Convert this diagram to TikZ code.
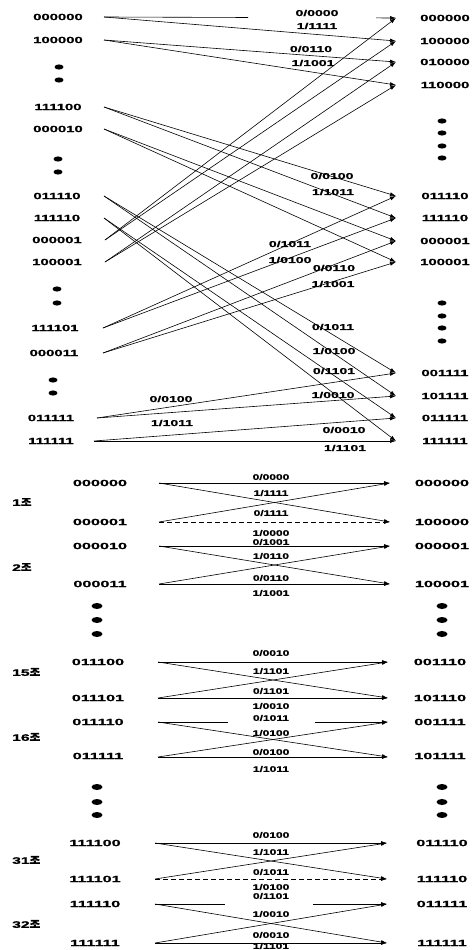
\documentclass[tikz,border=0pt]{standalone}
\usepackage{fontspec}
\setmainfont{Liberation Sans}
\newfontfamily\wa{Liberation Sans}[FakeStretch=1.65, BoldFeatures={FakeBold=1.2}]
\newfontfamily\wb{Liberation Sans}[FakeStretch=1.5, BoldFeatures={FakeBold=1.2}]
\newfontfamily\wc{Liberation Sans}[FakeStretch=1.8, BoldFeatures={FakeBold=1.2}]
\newfontfamily\cjk{Noto Sans CJK KR}[FakeBold=1.6, FakeStretch=1.15]
\newcommand\myjo{{\cjk\fontsize{10}{11}\selectfont 조}}
\usetikzlibrary{arrows.meta}
\begin{document}
\begin{tikzpicture}[x=1pt,y=-1pt,
  st/.style={font=\wa\bfseries\fontsize{9}{10}\selectfont, inner sep=0pt},
  stb/.style={font=\wc\bfseries\fontsize{9}{10}\selectfont, inner sep=0pt},
  el/.style={font=\wa\bfseries\fontsize{8.5}{9}\selectfont, inner sep=0.5pt},
  elb/.style={font=\wb\bfseries\fontsize{8}{9}\selectfont, inner sep=0.5pt},
  grp/.style={anchor=west, inner sep=0pt, font=\wa\bfseries\fontsize{9.5}{10}\selectfont},
  edge/.style={line width=0.6pt, -{Latex[length=6pt,width=4pt]}},
  brk/.style={dash pattern=on 5pt off 3pt}]
\useasboundingbox (0,0) rectangle (472,950);
\fill[white] (0,0) rectangle (472,950);

% ---------------- upper part ----------------
\foreach \n/\t/\x/\y/\px in {a1/000000/58/17/104, a2/100000/58/40/104,
  a3/111100/58/107/104, a4/000010/58/129/104, a5/011110/57/196/104,
  a6/111110/57/218/104, a7/000001/57/240/105, a8/100001/57/262/105,
  a9/111101/55/328/103, a10/000011/54/353/103, a11/011111/51/418/97,
  a12/111111/51/441/94}{
  \node[st] (\n) at (\x,\y) {\t};
  \coordinate (\n p) at (\px,\y);
}
\foreach \n/\t/\y in {b1/000000/18, b2/100000/41, b3/010000/62, b4/110000/85,
  b5/011110/196, b6/111110/218, b7/000001/241, b8/100001/262,
  b9/001111/373, b10/101111/396, b11/011111/418, b12/111111/441}{
  \node[st] (\n) at (445,\y) {\t};
  \coordinate (\n p) at (396,\y);
}
\foreach \p in {(59,67),(59,80),(58,159),(58,172),(57,289),(57,303),(53,380),(53,393),
  (442,121),(442,133),(442,146),(442,158),(442,303),(442,316),(442,328),(442,341)}{
  \fill \p ellipse [x radius=4.5pt, y radius=2.6pt];
}
\draw[edge, dash pattern=on 144pt off 128pt on 100pt] (a1p) -- (b1p);
\foreach \a/\b in {a1/b2, a2/b3, a2/b4, a3/b5, a3/b6, a4/b7, a4/b8,
  a5/b9, a5/b10, a6/b11, a6/b12, a7/b1, a7/b2, a8/b3, a8/b4,
  a9/b5, a9/b6, a10/b7, a10/b8, a11/b9, a11/b10, a12/b11, a12/b12}{
  \draw[edge] (\a p) -- (\b p);
}
\node[el] (t1) at (317,13) {0/0000};
\node[el] (t2) at (317,26) {1/1111};
\node[el] (t3) at (311,49) {0/0110};
\node[el] (t4) at (313,63) {1/1001};
\node[el] (t5) at (332,176) {0/0100};
\node[el] (t6) at (333,192) {1/1011};
\node[el] (t7) at (290,244) {0/1011};
\node[el] (t8) at (290,260) {1/0100};
\node[el] (t9) at (334,268) {0/0110};
\node[el] (t10) at (333,284) {1/1001};
\node[el] (t11) at (333,327) {0/1011};
\node[el] (t12) at (334,351) {1/0100};
\node[el] (t13) at (334,371) {0/1101};
\node[el] (t14) at (333,395) {1/0010};
\node[el] (t15) at (171,399) {0/0100};
\node[el] (t16) at (172,423) {1/1011};
\node[el] (t17) at (344,430) {0/0010};
\node[el] (t18) at (345,448) {1/1101};

% ---------------- lower part ----------------
% group 1
\node[stb] (p1a) at (100,483) {000000};
\node[stb] (p1b) at (100,522) {000001};
\node[stb] (q1a) at (442,483) {000000};
\node[stb] (q1b) at (442,522) {100000};
\coordinate (p1ap) at (159,483); \coordinate (p1bp) at (159,522);
\coordinate (q1ap) at (390,483); \coordinate (q1bp) at (390,522);
\draw[edge] (p1ap) -- (q1ap);
\draw[edge] (p1ap) -- (q1bp);
\draw[edge] (p1bp) -- (q1ap);
\draw[edge, brk] (p1bp) -- (q1bp);
\node[elb] (u1a) at (271,477) {0/0000};
\node[elb] (u1b) at (271,493) {1/1111};
\node[elb] (u1c) at (271,513) {0/1111};
\node[elb] (u1d) at (271,533) {1/0000};
\node[grp] (g1) at (12,502) {1\myjo};
% group 2
\node[stb] (p2a) at (100,546) {000010};
\node[stb] (p2b) at (100,584) {000011};
\node[stb] (q2a) at (442,546) {000001};
\node[stb] (q2b) at (442,584) {100001};
\coordinate (p2ap) at (159,546); \coordinate (p2bp) at (159,584);
\coordinate (q2ap) at (390,546); \coordinate (q2bp) at (390,584);
\draw[edge] (p2ap) -- (q2ap);
\draw[edge] (p2ap) -- (q2bp);
\draw[edge] (p2bp) -- (q2ap);
\draw[edge] (p2bp) -- (q2bp);
\node[elb] (u2a) at (271,542) {0/1001};
\node[elb] (u2b) at (271,556) {1/0110};
\node[elb] (u2c) at (271,578) {0/0110};
\node[elb] (u2d) at (271,593) {1/1001};
\node[grp] (g2) at (12,567) {2\myjo};
% dots
\foreach \y in {606,620,634,787,802,815}{
  \fill (97,\y) ellipse [x radius=5.5pt, y radius=3pt];
  \fill (442,\y) ellipse [x radius=5.5pt, y radius=3pt];
}
% group 15
\node[stb] (p3a) at (98,662) {011100};
\node[stb] (p3b) at (98,698) {011101};
\node[stb] (q3a) at (440,662) {001110};
\node[stb] (q3b) at (440,698) {101110};
\coordinate (p3ap) at (158,662); \coordinate (p3bp) at (158,698);
\coordinate (q3ap) at (388,662); \coordinate (q3bp) at (388,698);
\draw[edge] (p3ap) -- (q3ap);
\draw[edge] (p3ap) -- (q3bp);
\draw[edge] (p3bp) -- (q3ap);
\draw[edge] (p3bp) -- (q3bp);
\node[elb] (u3a) at (271,653) {0/0010};
\node[elb] (u3b) at (271,671) {1/1101};
\node[elb] (u3c) at (271,691) {0/1101};
\node[elb] (u3d) at (271,706) {1/0010};
\node[grp] (g3) at (12,672) {15\myjo};
% group 16
\node[stb] (p4a) at (98,722) {011110};
\node[stb] (p4b) at (98,756) {011111};
\node[stb] (q4a) at (440,722) {001111};
\node[stb] (q4b) at (440,756) {101111};
\coordinate (p4ap) at (158,722); \coordinate (p4bp) at (158,757);
\coordinate (q4ap) at (388,722); \coordinate (q4bp) at (388,757);
\draw[edge, dash pattern=on 70pt off 87pt on 100pt] (p4ap) -- (q4ap);
\draw[edge] (p4ap) -- (q4bp);
\draw[edge] (p4bp) -- (q4ap);
\draw[edge] (p4bp) -- (q4bp);
\node[elb] (u4a) at (271,718) {0/1011};
\node[elb] (u4b) at (271,733) {1/0100};
\node[elb] (u4c) at (271,752) {0/0100};
\node[elb] (u4d) at (271,769) {1/1011};
\node[grp] (g4) at (12,737) {16\myjo};
% group 31
\node[stb] (p5a) at (95,843) {111100};
\node[stb] (p5b) at (95,879) {111101};
\node[stb] (q5a) at (442,843) {011110};
\node[stb] (q5b) at (442,879) {111110};
\coordinate (p5ap) at (155,843); \coordinate (p5bp) at (155,879);
\coordinate (q5ap) at (387,843); \coordinate (q5bp) at (387,879);
\draw[edge] (p5ap) -- (q5ap);
\draw[edge] (p5ap) -- (q5bp);
\draw[edge] (p5bp) -- (q5ap);
\draw[edge, brk] (p5bp) -- (q5bp);
\node[elb] (u5a) at (271,835) {0/0100};
\node[elb] (u5b) at (271,852) {1/1011};
\node[elb] (u5c) at (271,872) {0/1011};
\node[elb] (u5d) at (271,887) {1/0100};
\node[grp] (g5) at (12,860) {31\myjo};
% group 32
\node[stb] (p6a) at (95,904) {111110};
\node[stb] (p6b) at (95,943) {111111};
\node[stb] (q6a) at (442,904) {011111};
\node[stb] (q6b) at (442,943) {111111};
\coordinate (p6ap) at (155,904); \coordinate (p6bp) at (155,943);
\coordinate (q6ap) at (387,904); \coordinate (q6bp) at (387,943);
\draw[edge, dash pattern=on 70pt off 88pt on 100pt] (p6ap) -- (q6ap);
\draw[edge] (p6ap) -- (q6bp);
\draw[edge] (p6bp) -- (q6ap);
\draw[edge] (p6bp) -- (q6bp);
\node[elb] (u6a) at (271,896) {0/1101};
\node[elb] (u6b) at (271,914) {1/0010};
\node[elb] (u6c) at (271,935) {0/0010};
\node[elb] (u6d) at (271,946) {1/1101};
\node[grp] (g6) at (12,924) {32\myjo};
\end{tikzpicture}
\end{document}
